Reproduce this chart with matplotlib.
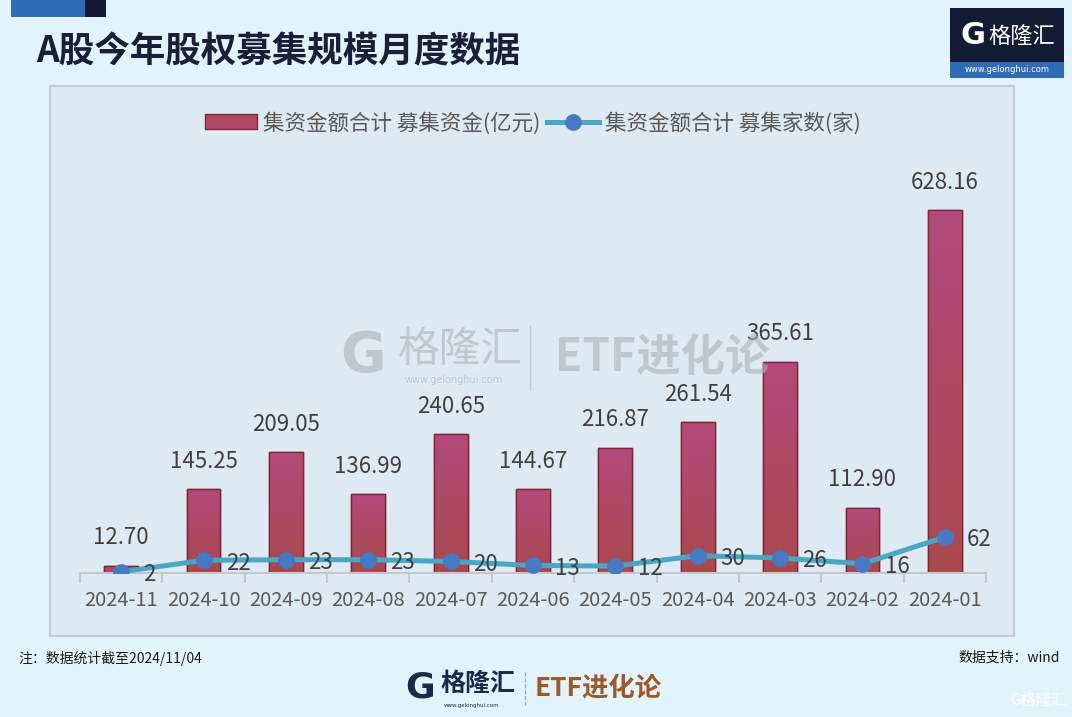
import numpy as np
import matplotlib
matplotlib.use("Agg")
import matplotlib.pyplot as plt
from matplotlib.patches import Rectangle
from matplotlib.colors import LinearSegmentedColormap
from matplotlib.lines import Line2D

plt.rcParams['font.family'] = ['Noto Sans CJK SC', 'DejaVu Sans']

months = ['2024-11', '2024-10', '2024-09', '2024-08', '2024-07', '2024-06',
          '2024-05', '2024-04', '2024-03', '2024-02', '2024-01']
amounts = [12.70, 145.25, 209.05, 136.99, 240.65, 144.67,
           216.87, 261.54, 365.61, 112.90, 628.16]
counts = [2, 22, 23, 23, 20, 13, 12, 30, 26, 16, 62]

bar_label = '集资金额合计 募集资金(亿元)'
line_label = '集资金额合计 募集家数(家)'
title = 'A股今年股权募集规模月度数据'
note = '注：数据统计截至2024/11/04'
source = '数据支持：wind'

W, H = 1072, 717
fig = plt.figure(figsize=(W / 100, H / 100), dpi=100)
fig.patch.set_facecolor('#e3f3fc')


def fx(px):
    return px / W


def fy(py):
    return 1 - py / H


# top-left decoration
fig.patches.append(Rectangle((fx(11), fy(17)), fx(74), 17 / H, transform=fig.transFigure,
                             facecolor='#2e6db4', edgecolor='none'))
fig.patches.append(Rectangle((fx(85), fy(17)), fx(21), 17 / H, transform=fig.transFigure,
                             facecolor='#121a33', edgecolor='none'))

fig.text(fx(36), fy(52), title, fontsize=25.6, fontweight='bold', color='#1a1f38',
         va='center', ha='left')

# top-right logo
fig.patches.append(Rectangle((fx(950), fy(62)), fx(114), 54 / H, transform=fig.transFigure,
                             facecolor='#131b35', edgecolor='none'))
fig.patches.append(Rectangle((fx(950), fy(78)), fx(114), 16 / H, transform=fig.transFigure,
                             facecolor='#2f6cb3', edgecolor='none'))
fig.text(fx(960), fy(36), 'G', fontsize=22, fontweight='bold', color='white',
         va='center', ha='left', family='DejaVu Sans')
fig.text(fx(988), fy(36), '格隆汇', fontsize=16, color='white', va='center', ha='left')
fig.text(fx(1007), fy(70), 'www.gelonghui.com', fontsize=6, color='white',
         va='center', ha='center', family='DejaVu Sans')

# chart panel
fig.patches.append(Rectangle((fx(50), fy(636)), fx(964), 550 / H, transform=fig.transFigure,
                             facecolor='#dde9f3', edgecolor='#c3ccd6', linewidth=1.5))

# watermark
wm = '#aab2bb'
fig.text(fx(340), fy(356), 'G', fontsize=40, fontweight='bold', color=wm,
         va='center', ha='left', family='DejaVu Sans', alpha=0.6)
fig.text(fx(398), fy(350), '格隆汇', fontsize=30, color=wm, va='center', ha='left', alpha=0.6)
fig.text(fx(454), fy(380), 'www.gelonghui.com', fontsize=7, color=wm,
         va='center', ha='center', family='DejaVu Sans', alpha=0.6)
fig.lines.append(Line2D([fx(530), fx(530)], [fy(326), fy(390)], transform=fig.transFigure,
                        color='#c3c9d0', lw=1))
fig.text(fx(555), fy(358), 'ETF进化论', fontsize=32, fontweight='bold', color=wm,
         va='center', ha='left', alpha=0.6)

# main axes
ymax = 650
ax = fig.add_axes([fx(80), fy(573), fx(906), (ymax * 0.578) / H])
ax.set_zorder(2)
ax.set_facecolor('none')
x = np.arange(len(months))

bars = ax.bar(x, amounts, width=0.41, color='#ae4966', edgecolor='#7d2636',
              linewidth=1, zorder=2)
cmap = LinearSegmentedColormap.from_list('g', ['#a94a4e', '#b3497c'])
grad = np.linspace(0, 1, 100).reshape(-1, 1)
for b in bars:
    x0, y0 = b.get_xy()
    im = ax.imshow(grad, extent=[x0, x0 + b.get_width(), y0, y0 + b.get_height()],
                   aspect='auto', cmap=cmap, origin='lower', zorder=2.1)
    im.set_clip_path(b)
    ax.add_patch(Rectangle((x0, y0), b.get_width(), b.get_height(), facecolor='none',
                           edgecolor='#7d2636', linewidth=1, zorder=2.2))

ax.plot(x, counts, color='#4ba6c4', lw=3.6, marker='o', markersize=11,
        markerfacecolor='#4779c4', markeredgecolor='#4779c4', zorder=3)

for xi, v in zip(x, amounts):
    ax.annotate(f'{v:.2f}', (xi, v), xytext=(0, 20), textcoords='offset points',
                ha='center', va='center', fontsize=16, color='#404040')
for xi, v in zip(x, counts):
    ax.annotate(f'{v}', (xi, v), xytext=(16, -2), textcoords='offset points',
                ha='left', va='center', fontsize=16, color='#404040', zorder=4)

ax.set_xlim(-0.5, len(months) - 0.5)
ax.set_ylim(0, ymax)
ax.set_yticks([])
ax.set_xticks(x)
ax.set_xticklabels(months, fontsize=14.5, color='#595959')
ax.set_xticks(np.arange(-0.5, len(months)), minor=True)
ax.tick_params(axis='x', which='major', length=0, pad=12)
ax.tick_params(axis='x', which='minor', length=7, width=1.5, color='#c4c8cc', direction='out')
for s in ['top', 'left', 'right']:
    ax.spines[s].set_visible(False)
ax.spines['bottom'].set_color('#c4c8cc')
ax.spines['bottom'].set_linewidth(1.5)

handles = [Rectangle((0, 0), 1, 1, facecolor='#ae4966', edgecolor='#7d2636'),
           Line2D([], [], color='#4ba6c4', lw=3.6, marker='o', markersize=11,
                  markerfacecolor='#4779c4', markeredgecolor='#4779c4')]
fig.legend(handles, [bar_label, line_label], loc='center', ncol=2,
           bbox_to_anchor=(fx(533), fy(123)), frameon=False, fontsize=15.5,
           labelcolor='#595959', handlelength=2.4, handleheight=0.7,
           handletextpad=0.3, columnspacing=0.3)

# footer
fig.text(fx(18), fy(658), note, fontsize=10, color='#1a1a1a', va='center', ha='left')
fig.text(fx(1060), fy(658), source, fontsize=10, color='#1a1a1a', va='center', ha='right')

fig.text(fx(405), fy(688), 'G', fontsize=26, fontweight='bold', color='#1c2a4a',
         va='center', ha='left', family='DejaVu Sans')
fig.text(fx(440), fy(684), '格隆汇', fontsize=18, fontweight='bold', color='#1c2a4a',
         va='center', ha='left')
fig.text(fx(472), fy(705), 'www.gelonghui.com', fontsize=4, color='#1c2a4a',
         va='center', ha='center', family='DejaVu Sans')
fig.lines.append(Line2D([fx(525), fx(525)], [fy(672), fy(705)], transform=fig.transFigure,
                        color='#9aa4b4', lw=0.8, ls='--'))
fig.text(fx(535), fy(688), 'ETF进化论', fontsize=19, fontweight='bold', color='#9a5a2a',
         va='center', ha='left')
fig.text(fx(1066), fy(700), 'G格隆汇', fontsize=11, color='white', va='center',
         ha='right', alpha=0.9)

fig.savefig('out.png', dpi=100, facecolor=fig.get_facecolor())
